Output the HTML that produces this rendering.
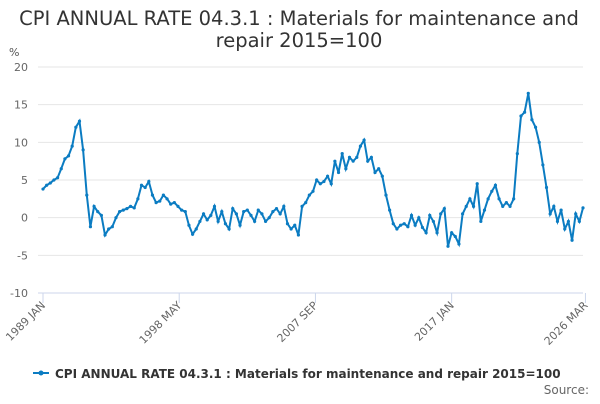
<!DOCTYPE html>
<html><head><meta charset="utf-8"><style>
body{margin:0;width:600px;height:400px;background:#fff;font-family:"DejaVu Sans",sans-serif;overflow:hidden}
svg text{font-family:"DejaVu Sans",sans-serif}
</style></head><body>
<svg width="600" height="400" xmlns="http://www.w3.org/2000/svg">
<text x="299" y="25" text-anchor="middle" font-size="19.5" fill="#333"><tspan x="299">CPI ANNUAL RATE 04.3.1 : Materials for maintenance and</tspan><tspan x="299" dy="22">repair 2015=100</tspan></text>
<text x="9" y="56" font-size="11" fill="#555">%</text>
<g id="grid"></g><g id="xaxis"></g>
<path id="line" fill="none" stroke="#0b7cc2" stroke-width="2"/>
<g id="pts"></g>
<g>
<line x1="33" y1="373" x2="49" y2="373" stroke="#0b7cc2" stroke-width="2"/><circle cx="41" cy="373" r="2.5" fill="#0b7cc2"/>
<text x="55" y="378" font-size="12" font-weight="bold" fill="#333">CPI ANNUAL RATE 04.3.1 : Materials for maintenance and repair 2015=100</text></g>
<text x="589" y="394" text-anchor="end" font-size="12" fill="#666">Source:</text>
</svg>
<script>
const yTicks=[20,15,10,5,0,-5,-10];
const xLabels=["1989 JAN","1998 MAY","2007 SEP","2017 JAN","2026 MAR"];
const xLabelPos=[0,37.33,74.67,112,148.67];
const values=[3.8,4.3,4.6,5.0,5.3,6.5,7.8,8.2,9.5,12.0,12.8,9.0,3.0,-1.2,1.5,0.8,0.3,-2.3,-1.5,-1.2,0.0,0.8,1.0,1.2,1.5,1.3,2.5,4.3,4.0,4.8,3.0,2.0,2.2,3.0,2.5,1.8,2.0,1.5,1.0,0.8,-1.0,-2.2,-1.5,-0.5,0.5,-0.3,0.3,1.5,-0.5,0.8,-0.8,-1.5,1.2,0.5,-1.0,0.8,1.0,0.3,-0.5,1.0,0.5,-0.5,0.0,0.8,1.2,0.5,1.5,-0.8,-1.5,-1.0,-2.3,1.5,2.0,3.0,3.5,5.0,4.5,4.8,5.5,4.5,7.5,6.0,8.5,6.5,8.0,7.5,8.0,9.5,10.3,7.5,8.0,6.0,6.5,5.5,3.0,1.0,-0.8,-1.5,-1.0,-0.8,-1.2,0.3,-1.0,0.0,-1.3,-2.0,0.3,-0.5,-2.0,0.5,1.2,-3.8,-2.0,-2.5,-3.5,0.5,1.5,2.5,1.5,4.5,-0.5,1.0,2.5,3.5,4.3,2.5,1.5,2.0,1.5,2.5,8.5,13.5,14.0,16.5,13.0,12.0,10.0,7.0,4.0,0.5,1.5,-0.5,1.0,-1.5,-0.5,-3.0,0.5,-0.5,1.3];
const NS="http://www.w3.org/2000/svg";
const x0=43,x1=583,y0=293,y1=67;
const xs=i=>x0+(x1-x0)*i/(values.length-1);
const ys=v=>y0-(v+10)/30*(y0-y1);
const grid=document.getElementById('grid');
yTicks.forEach(t=>{
 const l=document.createElementNS(NS,'line');
 
 
 l.setAttribute('x1',38);l.setAttribute('x2',583);l.setAttribute('y1',ys(t));l.setAttribute('y2',ys(t));
 l.setAttribute('stroke',t===-10?'#ccd6eb':'#e6e6e6');grid.appendChild(l);
 const tx=document.createElementNS(NS,'text');
 
 
 tx.setAttribute('x',28);tx.setAttribute('y',ys(t)+4);tx.setAttribute('text-anchor','end');
 tx.setAttribute('font-size','11');tx.setAttribute('fill','#666');tx.textContent=t;grid.appendChild(tx);
});
const xa=document.getElementById('xaxis');
xLabels.forEach((s,i)=>{
 const x=xs(xLabelPos[i]);
 const l=document.createElementNS(NS,'line');
 
 
 l.setAttribute('x1',x);l.setAttribute('x2',x);l.setAttribute('y1',293);l.setAttribute('y2',303);l.setAttribute('stroke','#ccd6eb');xa.appendChild(l);
 const tx=document.createElementNS(NS,'text');
 
 
 tx.setAttribute('x',x+3);tx.setAttribute('y',306);tx.setAttribute('text-anchor','end');
 tx.setAttribute('font-size','11');tx.setAttribute('fill','#666');
 tx.setAttribute('transform','rotate(-45 '+(x+3)+' 306)');tx.textContent=s;xa.appendChild(tx);
});
let d='';const pts=document.getElementById('pts');
values.forEach((v,i)=>{
 d+=(i?'L':'M')+xs(i).toFixed(1)+' '+ys(v).toFixed(1);
 const c=document.createElementNS(NS,'circle');
 
 
 c.setAttribute('cx',xs(i));c.setAttribute('cy',ys(v));c.setAttribute('r',1.6);c.setAttribute('fill','#0b7cc2');pts.appendChild(c);
});
document.getElementById('line').setAttribute('d',d);
</script>
</body></html>
